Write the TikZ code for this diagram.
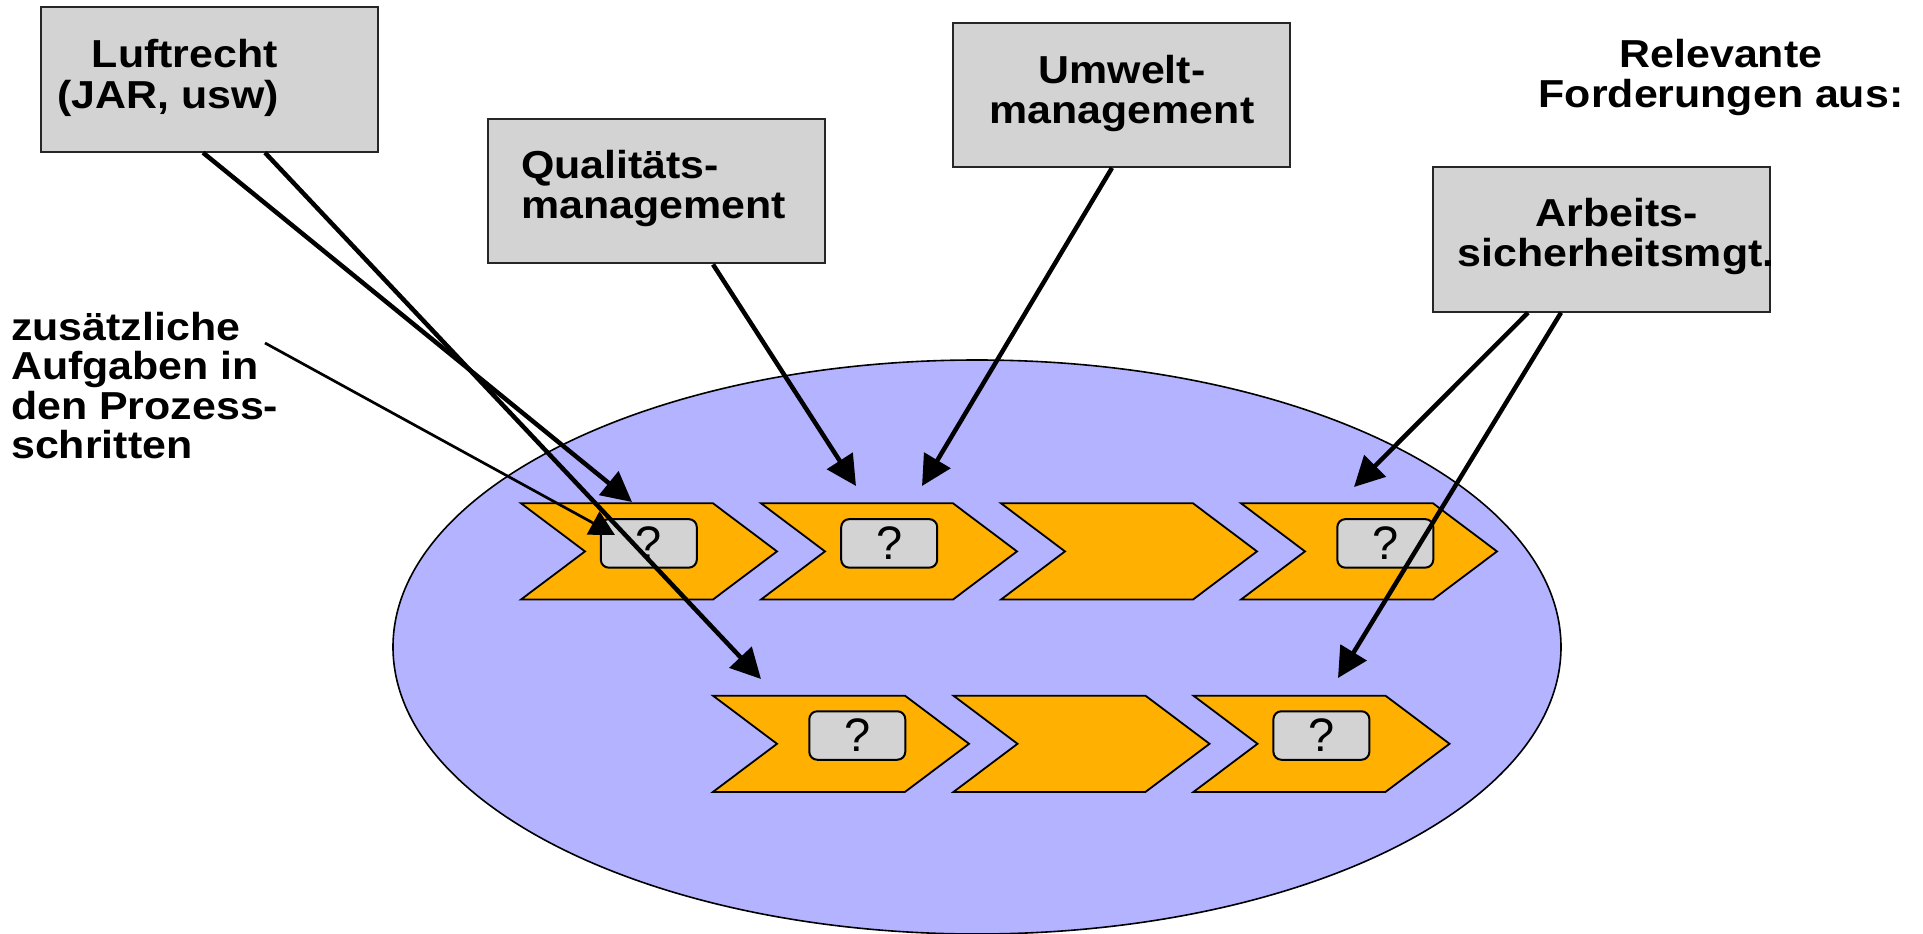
\documentclass[tikz,border=0pt]{standalone}
\usepackage{fontspec}
\setmainfont{Liberation Sans}
\newfontfamily\lblfont{Liberation Sans}[FakeStretch=1.1]
\usetikzlibrary{arrows.meta}

\definecolor{pool}{RGB}{179,179,255}
\definecolor{stepfill}{RGB}{255,176,0}
\definecolor{boxgray}{RGB}{211,211,211}

\tikzset{
  reqbox/.style={draw=black!85, line width=2pt, fill=boxgray,
    minimum width=336.5pt, minimum height=144.3pt, inner sep=0pt},
  lbl/.style={font=\lblfont\bfseries\fontsize{39}{40}\selectfont, inner sep=0pt},
  chev/.style={draw=black, line width=1.8pt, fill=stepfill, line join=miter},
  qbox/.style={draw=black, line width=2pt, fill=boxgray, rounded corners=8pt,
    minimum width=96pt, minimum height=48.5pt, inner sep=0pt,
    font=\fontsize{47}{50}\selectfont},
  req/.style={line width=4.5pt, -{Triangle[length=30pt,width=30pt]}},
  note/.style={line width=2.7pt, -{Triangle[length=25pt,width=26pt]}},
}

\begin{document}
\begin{tikzpicture}[x=1pt,y=-1pt]
\useasboundingbox (0,0) rectangle (1923,934);

% process area
\draw[line width=1.6pt, fill=pool] (977,647) ellipse [x radius=584pt, y radius=287pt];

% process steps, upper row
\foreach \L in {521,761,1001,1241}
  \draw[chev] (\L,503.3) -- ++(192,0) -- ++(64,48.1) -- ++(-64,48.1)
    -- ++(-192,0) -- ++(64,-48.1) -- cycle;
% process steps, lower row
\foreach \L in {713,953.5,1193.5}
  \draw[chev] (\L,695.7) -- ++(192,0) -- ++(64,48.1) -- ++(-64,48.1)
    -- ++(-192,0) -- ++(64,-48.1) -- cycle;

% open questions inside the steps
\node[qbox] (q11) at (648.8,543.4) {?};
\node[qbox] (q12) at (889.2,543.4) {?};
\node[qbox] (q14) at (1385.3,543.4) {?};
\node[qbox] (q21) at (857.3,735.5) {?};
\node[qbox] (q23) at (1321.4,735.5) {?};

% requirement sources
\node[reqbox] (luft) at (209.7,79.5) {};
\node[reqbox] (qual) at (656.7,191.3) {};
\node[reqbox] (umw)  at (1121.3,94.7) {};
\node[reqbox] (arb)  at (1601.3,239.5) {};

\node[lbl, anchor=base east] (luftA) at (278,67) {Luftrecht};
\node[lbl, anchor=base east] (luftB) at (279,108) {(JAR, usw)};
\node[lbl, anchor=base west] (qualA) at (521,178) {Qualitäts-};
\node[lbl, anchor=base west] (qualB) at (521,218.5) {management};
\node[lbl, anchor=base] (umwA) at (1122,84) {Umwelt-};
\node[lbl, anchor=base] (umwB) at (1122,124) {management};
\node[lbl, anchor=base] (arbA) at (1617,226) {Arbeits-};
\node[lbl, anchor=base] (arbB) at (1616,266.5) {sicherheitsmgt.};

\node[lbl, anchor=base] (relA) at (1721,67) {Relevante};
\node[lbl, anchor=base] (relB) at (1721,107.5) {Forderungen aus:};

\node[lbl, anchor=base west] (zusA) at (11,340) {zusätzliche};
\node[lbl, anchor=base west] (zusB) at (11,379.5) {Aufgaben in};
\node[lbl, anchor=base west] (zusC) at (11,419) {den Prozess-};
\node[lbl, anchor=base west] (zusD) at (11,458.5) {schritten};

% arrow targets
\coordinate (t1) at (632,502);
\coordinate (t2) at (761,679);
\coordinate (z0) at (265,343);
\coordinate (t3) at (615,535);
\coordinate (t4) at (856,486);
\coordinate (t5) at (922,486);
\coordinate (t6) at (1354,487);
\coordinate (t7) at (1338,678);

% requirement arrows
\draw[req] ([xshift=-6.7pt]luft.south) -- (t1);
\draw[req] ([xshift=55.3pt]luft.south) -- (t2);
\draw[note] (z0) -- (t3);
\draw[req] ([xshift=56.3pt]qual.south) -- (t4);
\draw[req] ([xshift=-9.3pt]umw.south) -- (t5);
\draw[req] ([xshift=-73.3pt]arb.south) -- (t6);
\draw[req] ([xshift=-40.3pt]arb.south) -- (t7);
\end{tikzpicture}
\end{document}
